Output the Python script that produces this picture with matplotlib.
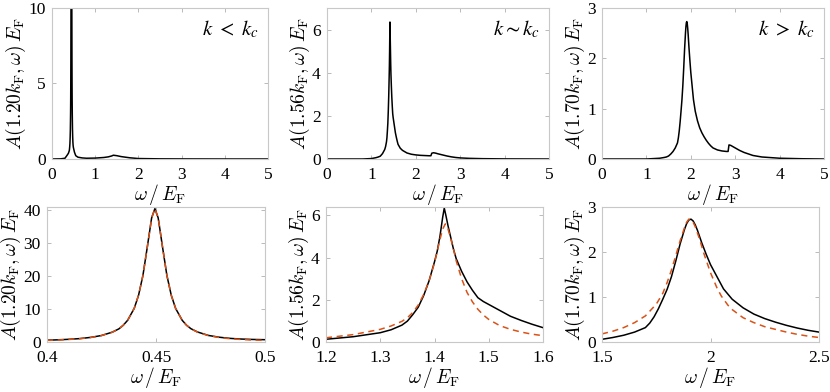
import matplotlib
matplotlib.use('Agg')
import matplotlib.pyplot as plt

plt.rcParams['font.family'] = ['Liberation Serif', 'DejaVu Serif']
plt.rcParams['mathtext.fontset'] = 'cm'

# ---- datos ----
# k = 1.20 kF
w_120 = [0.0, 0.1, 0.2, 0.3, 0.35, 0.38, 0.40, 0.405, 0.41, 0.415, 0.42, 0.425, 0.43, 0.433,
         0.435, 0.437, 0.44, 0.442, 0.444, 0.446, 0.448, 0.4495, 0.451, 0.453, 0.455, 0.457,
         0.459, 0.462, 0.464, 0.466, 0.469, 0.474, 0.479, 0.484, 0.489, 0.494, 0.50,
         0.52, 0.55, 0.6, 0.7, 0.8, 1.0, 1.2, 1.3, 1.38, 1.42, 1.5, 1.6, 1.8, 2.0, 2.5, 3.0, 4.0, 5.0]
A_120 = [0.0, 0.005, 0.01, 0.05, 0.25, 0.38, 0.55, 0.66, 0.82, 1.03, 1.4, 1.97, 3.0, 4.0,
         5.1, 6.6, 10.2, 14.2, 20.2, 28.8, 37.7, 40.5, 37.7, 28.8, 20.2, 14.2,
         10.2, 6.6, 5.1, 4.05, 3.05, 2.0, 1.45, 1.1, 0.9, 0.78, 0.7,
         0.45, 0.22, 0.12, 0.07, 0.05, 0.06, 0.1, 0.14, 0.2, 0.25, 0.22, 0.16, 0.08, 0.03, 0.01, 0.005, 0.0, 0.0]
w_120_fit = [0.40, 0.405, 0.41, 0.415, 0.42, 0.425, 0.43, 0.433, 0.435, 0.437, 0.44, 0.442,
             0.444, 0.446, 0.448, 0.4495, 0.451, 0.453, 0.455, 0.457, 0.459, 0.462, 0.464,
             0.466, 0.469, 0.474, 0.479, 0.484, 0.489, 0.494, 0.50]
A_120_fit = [0.49, 0.6, 0.77, 1.0, 1.36, 1.95, 2.99, 4.0, 5.1, 6.6, 10.2, 14.2,
             20.2, 28.8, 37.7, 40.5, 37.7, 28.8, 20.2, 14.2, 10.2, 6.6, 5.1,
             4.05, 2.99, 1.95, 1.36, 1.0, 0.77, 0.6, 0.49]

# k = 1.56 kF
w_156 = [0.0, 0.8, 1.0, 1.1, 1.15, 1.2, 1.25, 1.3, 1.32, 1.34, 1.35, 1.36, 1.37, 1.38, 1.39,
         1.40, 1.405, 1.41, 1.415, 1.418, 1.421, 1.425, 1.43, 1.435, 1.44, 1.45, 1.46, 1.47,
         1.48, 1.49, 1.50, 1.52, 1.54, 1.56, 1.58, 1.6, 1.65, 1.7, 1.8, 1.9, 2.0, 2.1, 2.2,
         2.3, 2.34, 2.36, 2.4, 2.45, 2.5, 2.6, 2.7, 2.8, 2.9, 3.0, 3.2, 3.5, 4.0, 5.0]
A_156 = [0.0, 0.0, 0.02, 0.06, 0.09, 0.13, 0.25, 0.44, 0.58, 0.8, 0.99, 1.3, 1.65, 2.2, 2.9,
         3.8, 4.3, 5.0, 5.9, 6.35, 6.0, 5.5, 4.95, 4.4, 3.95, 3.35, 2.85, 2.45,
         2.1, 1.92, 1.78, 1.5, 1.22, 1.02, 0.84, 0.68, 0.5, 0.4, 0.28, 0.22, 0.19, 0.17, 0.16,
         0.15, 0.15, 0.27, 0.29, 0.27, 0.24, 0.19, 0.14, 0.1, 0.07, 0.05, 0.03, 0.015, 0.005, 0.0]
w_156_fit = [1.2, 1.25, 1.3, 1.32, 1.34, 1.35, 1.36, 1.37, 1.38, 1.39, 1.40, 1.405, 1.41,
             1.415, 1.42, 1.425, 1.43, 1.435, 1.44, 1.45, 1.46, 1.47, 1.48, 1.49, 1.50,
             1.52, 1.54, 1.56, 1.58, 1.6]
A_156_fit = [0.2, 0.35, 0.6, 0.76, 0.98, 1.15, 1.4, 1.75, 2.25, 2.9, 3.75, 4.3, 4.85,
             5.35, 5.6, 5.35, 4.9, 4.4, 3.85, 3.0, 2.35, 1.9, 1.55, 1.28, 1.07,
             0.78, 0.6, 0.47, 0.37, 0.3]

# k = 1.70 kF
w_170 = [0.0, 1.0, 1.2, 1.3, 1.4, 1.45, 1.5, 1.55, 1.6, 1.65, 1.7, 1.72, 1.74, 1.76, 1.78,
         1.8, 1.82, 1.84, 1.86, 1.88, 1.89, 1.9, 1.91, 1.92, 1.93, 1.94, 1.96, 1.98, 2.0,
         2.03, 2.06, 2.1, 2.15, 2.2, 2.25, 2.3, 2.35, 2.4, 2.45, 2.5, 2.6, 2.7, 2.8, 2.84,
         2.86, 2.9, 3.0, 3.1, 3.2, 3.4, 3.6, 4.0, 4.5, 5.0]
A_170 = [0.0, 0.0, 0.01, 0.015, 0.03, 0.04, 0.06, 0.1, 0.15, 0.22, 0.32, 0.42, 0.56, 0.74, 0.95,
         1.17, 1.45, 1.8, 2.18, 2.5, 2.63, 2.71, 2.73, 2.69, 2.6, 2.48, 2.2, 1.95, 1.72,
         1.45, 1.18, 0.95, 0.76, 0.62, 0.52, 0.44, 0.37, 0.31, 0.26, 0.22, 0.18, 0.16, 0.15, 0.15,
         0.28, 0.27, 0.22, 0.17, 0.13, 0.07, 0.04, 0.015, 0.005, 0.0]
w_170_fit = [1.5, 1.55, 1.6, 1.65, 1.7, 1.75, 1.78, 1.8, 1.82, 1.84, 1.86, 1.88, 1.89, 1.9,
             1.91, 1.92, 1.93, 1.95, 1.97, 2.0, 2.03, 2.05, 2.08, 2.1, 2.15, 2.2, 2.25,
             2.3, 2.35, 2.4, 2.45, 2.5]
A_170_fit = [0.18, 0.24, 0.32, 0.43, 0.58, 0.84, 1.08, 1.32, 1.6, 1.92, 2.25, 2.54, 2.66, 2.73,
             2.72, 2.66, 2.56, 2.28, 1.96, 1.54, 1.2, 1.02, 0.82, 0.72, 0.54, 0.43, 0.34,
             0.28, 0.22, 0.17, 0.13, 0.1]

ylabels = [r'$A(1.20k_{\mathrm{F}},\omega)\,E_{\mathrm{F}}$',
           r'$A(1.56k_{\mathrm{F}},\omega)\,E_{\mathrm{F}}$',
           r'$A(1.70k_{\mathrm{F}},\omega)\,E_{\mathrm{F}}$']
etiquetas = [r'$k\ <\ k_c$', r'$k{\sim}k_c$', r'$k\ >\ k_c$']
xlabel = r'$\omega\,/\,E_{\mathrm{F}}$'

# ---- configuracion de paneles ----
W, H = 830, 392
top_pos = [(52, 8, 216, 151), (327, 8, 222, 151), (602, 8, 222, 151)]
bot_pos = [(47, 207, 218, 135), (326, 207, 217, 135), (602, 207, 217, 135)]

top_ylim = [10, 7, 3]
top_yticks = [[0, 5, 10], [0, 2, 4, 6], [0, 1, 2, 3]]
bot_xlim = [(0.4, 0.5), (1.2, 1.6), (1.5, 2.5)]
bot_xticks = [[0.4, 0.45, 0.5], [1.2, 1.3, 1.4, 1.5, 1.6], [1.5, 2, 2.5]]
bot_xticklabels = [['0.4', '0.45', '0.5'], ['1.2', '1.3', '1.4', '1.5', '1.6'], ['1.5', '2', '2.5']]
bot_ylim = [41, 6.4, 3]
bot_yticks = [[0, 10, 20, 30, 40], [0, 2, 4, 6], [0, 1, 2, 3]]

curvas = [(w_120, A_120), (w_156, A_156), (w_170, A_170)]
ajustes = [(w_120_fit, A_120_fit), (w_156_fit, A_156_fit), (w_170_fit, A_170_fit)]


def estilo(ax):
    for s in ax.spines.values():
        s.set_color('#c8c8c8')
        s.set_linewidth(0.8)
    ax.tick_params(direction='in', length=3, width=0.6, color='#b0b0b0',
                   labelsize=12.5, top=True, right=True)
    ax.tick_params(axis='x', pad=5.5)
    ax.tick_params(axis='y', pad=4.5)
    ax.set_xlabel(xlabel, fontsize=14, labelpad=-0.5)


fig = plt.figure(figsize=(W / 100, H / 100), dpi=100)

for i in range(3):
    x0, y0, w, h = top_pos[i]
    ax = fig.add_axes([x0 / W, 1 - (y0 + h) / H, w / W, h / H])
    ax.plot(curvas[i][0], curvas[i][1], color='black', linewidth=1.1)
    ax.set_xlim(0, 5)
    ax.set_ylim(0, top_ylim[i])
    ax.set_xticks([0, 1, 2, 3, 4, 5])
    ax.set_yticks(top_yticks[i])
    ax.set_ylabel(ylabels[i], fontsize=14, labelpad=0)
    ax.text(0.96, 0.86, etiquetas[i], transform=ax.transAxes, ha='right', va='center',
            fontsize=15, math_fontfamily='stix')
    estilo(ax)

    x0, y0, w, h = bot_pos[i]
    ax = fig.add_axes([x0 / W, 1 - (y0 + h) / H, w / W, h / H])
    ax.plot(curvas[i][0], curvas[i][1], color='black', linewidth=1.1)
    ax.plot(ajustes[i][0], ajustes[i][1], color='#D95319', linewidth=1.1,
            linestyle=(0, (4, 3)))
    ax.set_xlim(bot_xlim[i])
    ax.set_ylim(0, bot_ylim[i])
    ax.set_xticks(bot_xticks[i], bot_xticklabels[i])
    ax.set_yticks(bot_yticks[i])
    ax.set_ylabel(ylabels[i], fontsize=14, labelpad=0)
    estilo(ax)

plt.savefig('out.png', dpi=100)
